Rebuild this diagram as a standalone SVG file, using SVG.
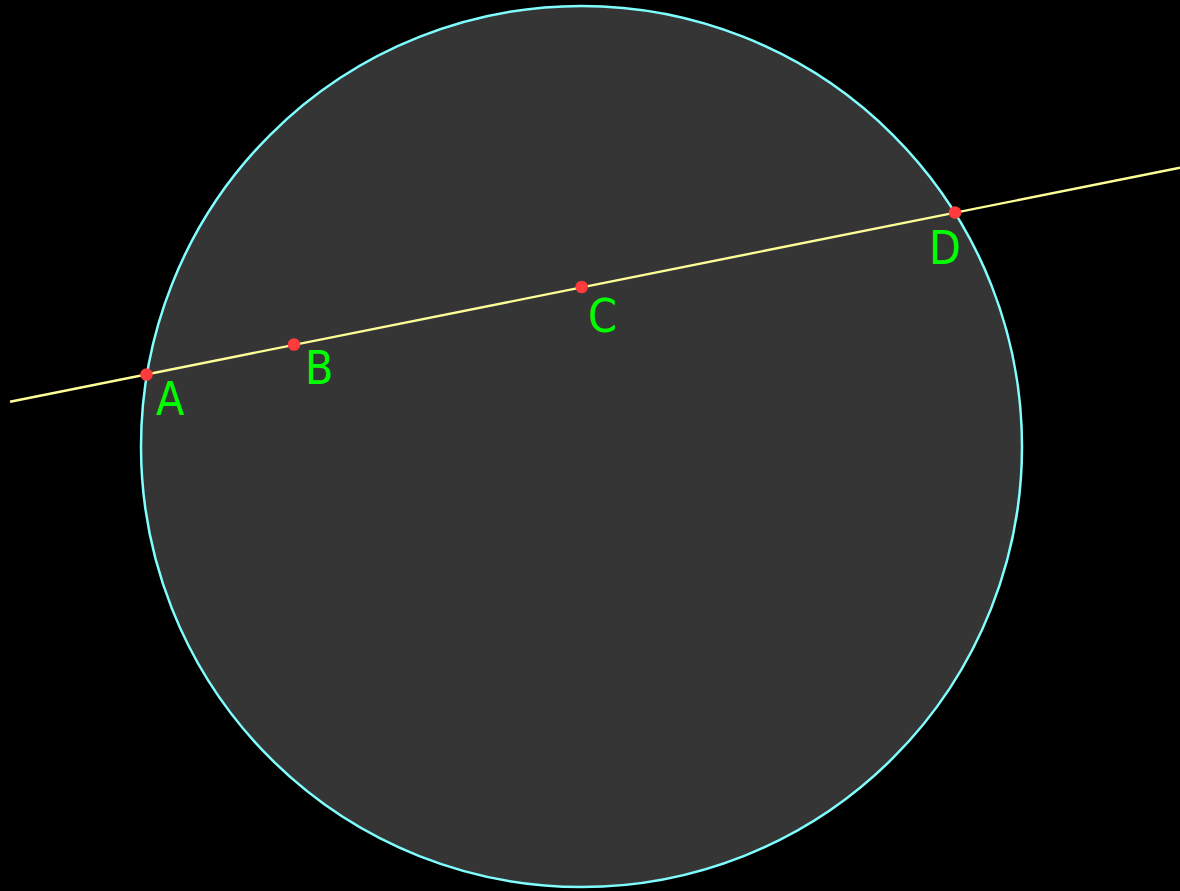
<svg xmlns="http://www.w3.org/2000/svg" width="1180" height="891" viewBox="0 0 1180 891">
<style>
.lbl{font-family:"DejaVu Sans Condensed","DejaVu Sans",sans-serif;font-stretch:condensed;font-size:46px;fill:#00ff00}
.pt{fill:#ff3b3b}
</style>
<rect x="0" y="0" width="1180" height="891" fill="#000"/>
<g id="circle"><circle cx="581.5" cy="446.5" r="440.5" fill="#353535" stroke="#80ffff" stroke-width="2.5"/></g>
<g id="connectors"><line x1="10" y1="401.7" x2="1180" y2="167.7" stroke="#ffff99" stroke-width="2.4"/></g>
<g id="A"><circle class="pt" cx="146.5" cy="374.5" r="6.3"/><text class="lbl" x="156" y="415">A</text></g>
<g id="B"><circle class="pt" cx="294" cy="344.5" r="6.3"/><text class="lbl" x="305" y="384">B</text></g>
<g id="C"><circle class="pt" cx="581.7" cy="287" r="6.3"/><text class="lbl" x="588" y="332">C</text></g>
<g id="D"><circle class="pt" cx="955" cy="212.5" r="6.3"/><text class="lbl" x="929" y="264">D</text></g>
</svg>
